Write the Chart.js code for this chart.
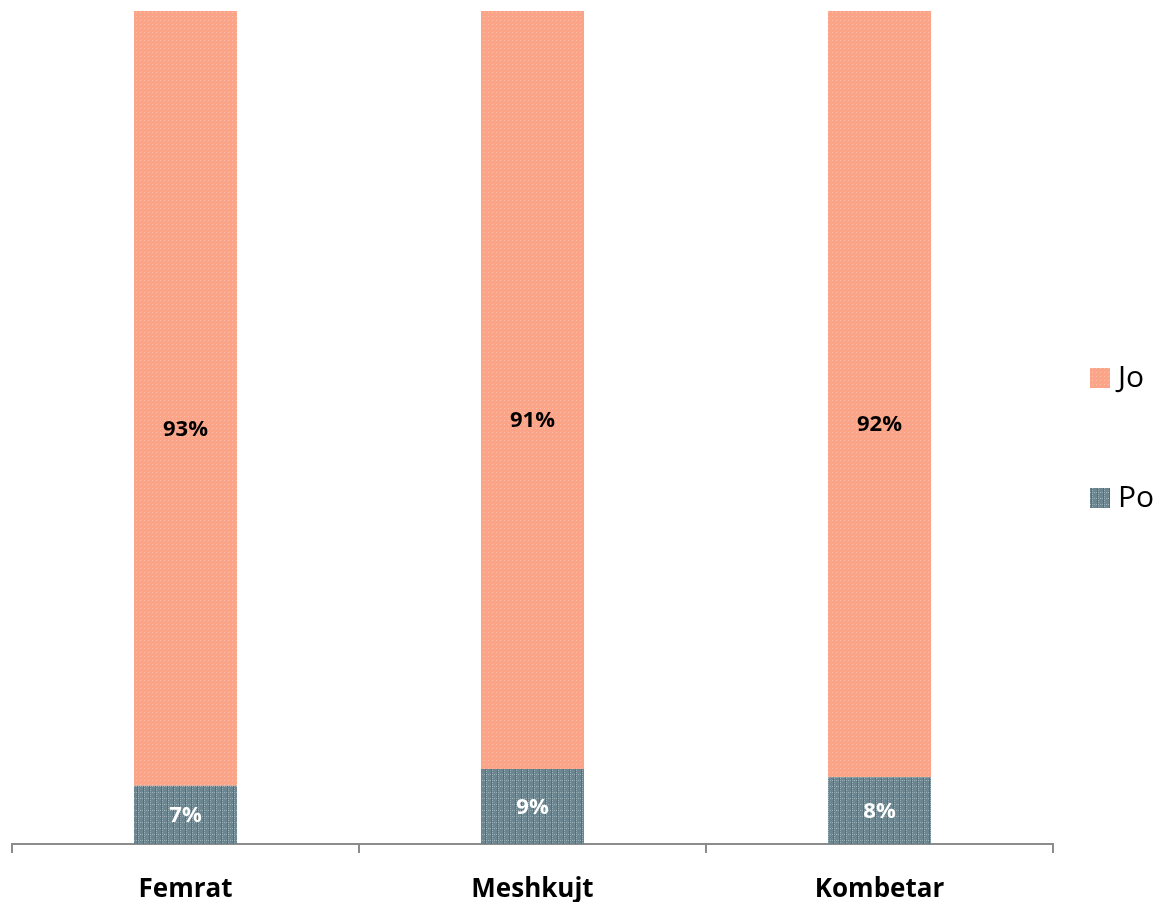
<!DOCTYPE html>
<html>
<head>
<meta charset="utf-8">
<script src="https://cdn.jsdelivr.net/npm/chart.js@4/dist/chart.umd.min.js"></script>
<style>
  body { margin: 0; background: #fff; }
  .wrap { width: 1162px; height: 904px; position: relative; }
</style>
</head>
<body>
<div class="wrap"><canvas id="chart"></canvas></div>
<script>
// data
const categories = ['Femrat', 'Meshkujt', 'Kombetar'];
const poValues = [7, 9, 8];
const joValues = [93, 91, 92];
const seriesNames = ['Po', 'Jo'];

// small textured fills like the original
function makePattern(base, light, dark, size, step) {
  const c = document.createElement('canvas');
  c.width = size; c.height = size;
  const g = c.getContext('2d');
  g.fillStyle = base;
  g.fillRect(0, 0, size, size);
  g.fillStyle = light;
  for (let i = 0; i < size; i += step) {
    g.fillRect(i, 0, 1, 1);
    g.fillRect(0, i, 1, 1);
  }
  if (dark) {
    g.fillStyle = dark;
    g.fillRect(size - 1, 0, 1, size);
  }
  return g.createPattern(c, 'repeat');
}
const joFill = makePattern('#fba488', '#fdbfa9', null, 4, 4);
const poFill = makePattern('#6c8691', '#9cb0b8', '#56707b', 6, 2);

const font = '"Open Sans", Lato, sans-serif';

const labelPlugin = {
  id: 'segLabels',
  afterDatasetsDraw(chart) {
    const ctx = chart.ctx;
    ctx.save();
    ctx.font = 'bold 22px ' + font;
    ctx.textAlign = 'center';
    ctx.textBaseline = 'middle';
    chart.data.datasets.forEach((ds, di) => {
      chart.getDatasetMeta(di).data.forEach((bar, i) => {
        const mid = (bar.y + bar.base) / 2;
        ctx.fillStyle = di === 0 ? '#ffffff' : '#000000';
        ctx.fillText(ds.data[i] + '%', bar.x, di === 0 ? mid + 1 : mid + 31);
      });
    });
    // legend on the right
    ctx.font = '30px ' + font;
    ctx.textAlign = 'left';
    const items = [[1, 378], [0, 498]];
    items.forEach(([di, y]) => {
      ctx.fillStyle = chart.data.datasets[di].backgroundColor;
      ctx.fillRect(1090, y - 10, 20, 20);
      ctx.fillStyle = '#000';
      ctx.fillText(chart.data.datasets[di].label, 1118, y);
    });
    ctx.restore();
  }
};

new Chart(document.getElementById('chart'), {
  type: 'bar',
  data: {
    labels: categories,
    datasets: [
      { label: seriesNames[0], data: poValues, backgroundColor: poFill },
      { label: seriesNames[1], data: joValues, backgroundColor: joFill }
    ]
  },
  options: {
    responsive: true,
    maintainAspectRatio: false,
    animation: false,
    layout: { padding: { top: 11, right: 109, left: 12, bottom: 2 } },
    datasets: { bar: { categoryPercentage: 1, barPercentage: 0.297 } },
    plugins: { legend: { display: false }, tooltip: { enabled: false } },
    scales: {
      x: {
        stacked: true,
        afterFit(scale) { scale.height = 58; },
        grid: { offset: true, drawOnChartArea: false, tickLength: 9, color: '#8c8c8c', lineWidth: 2 },
        border: { color: '#8c8c8c', width: 2 },
        ticks: { color: '#000', padding: 21, font: { family: font, size: 26, weight: 'bold' } }
      },
      y: { stacked: true, display: false, min: 0, max: 100 }
    }
  },
  plugins: [labelPlugin]
});
</script>
</body>
</html>
